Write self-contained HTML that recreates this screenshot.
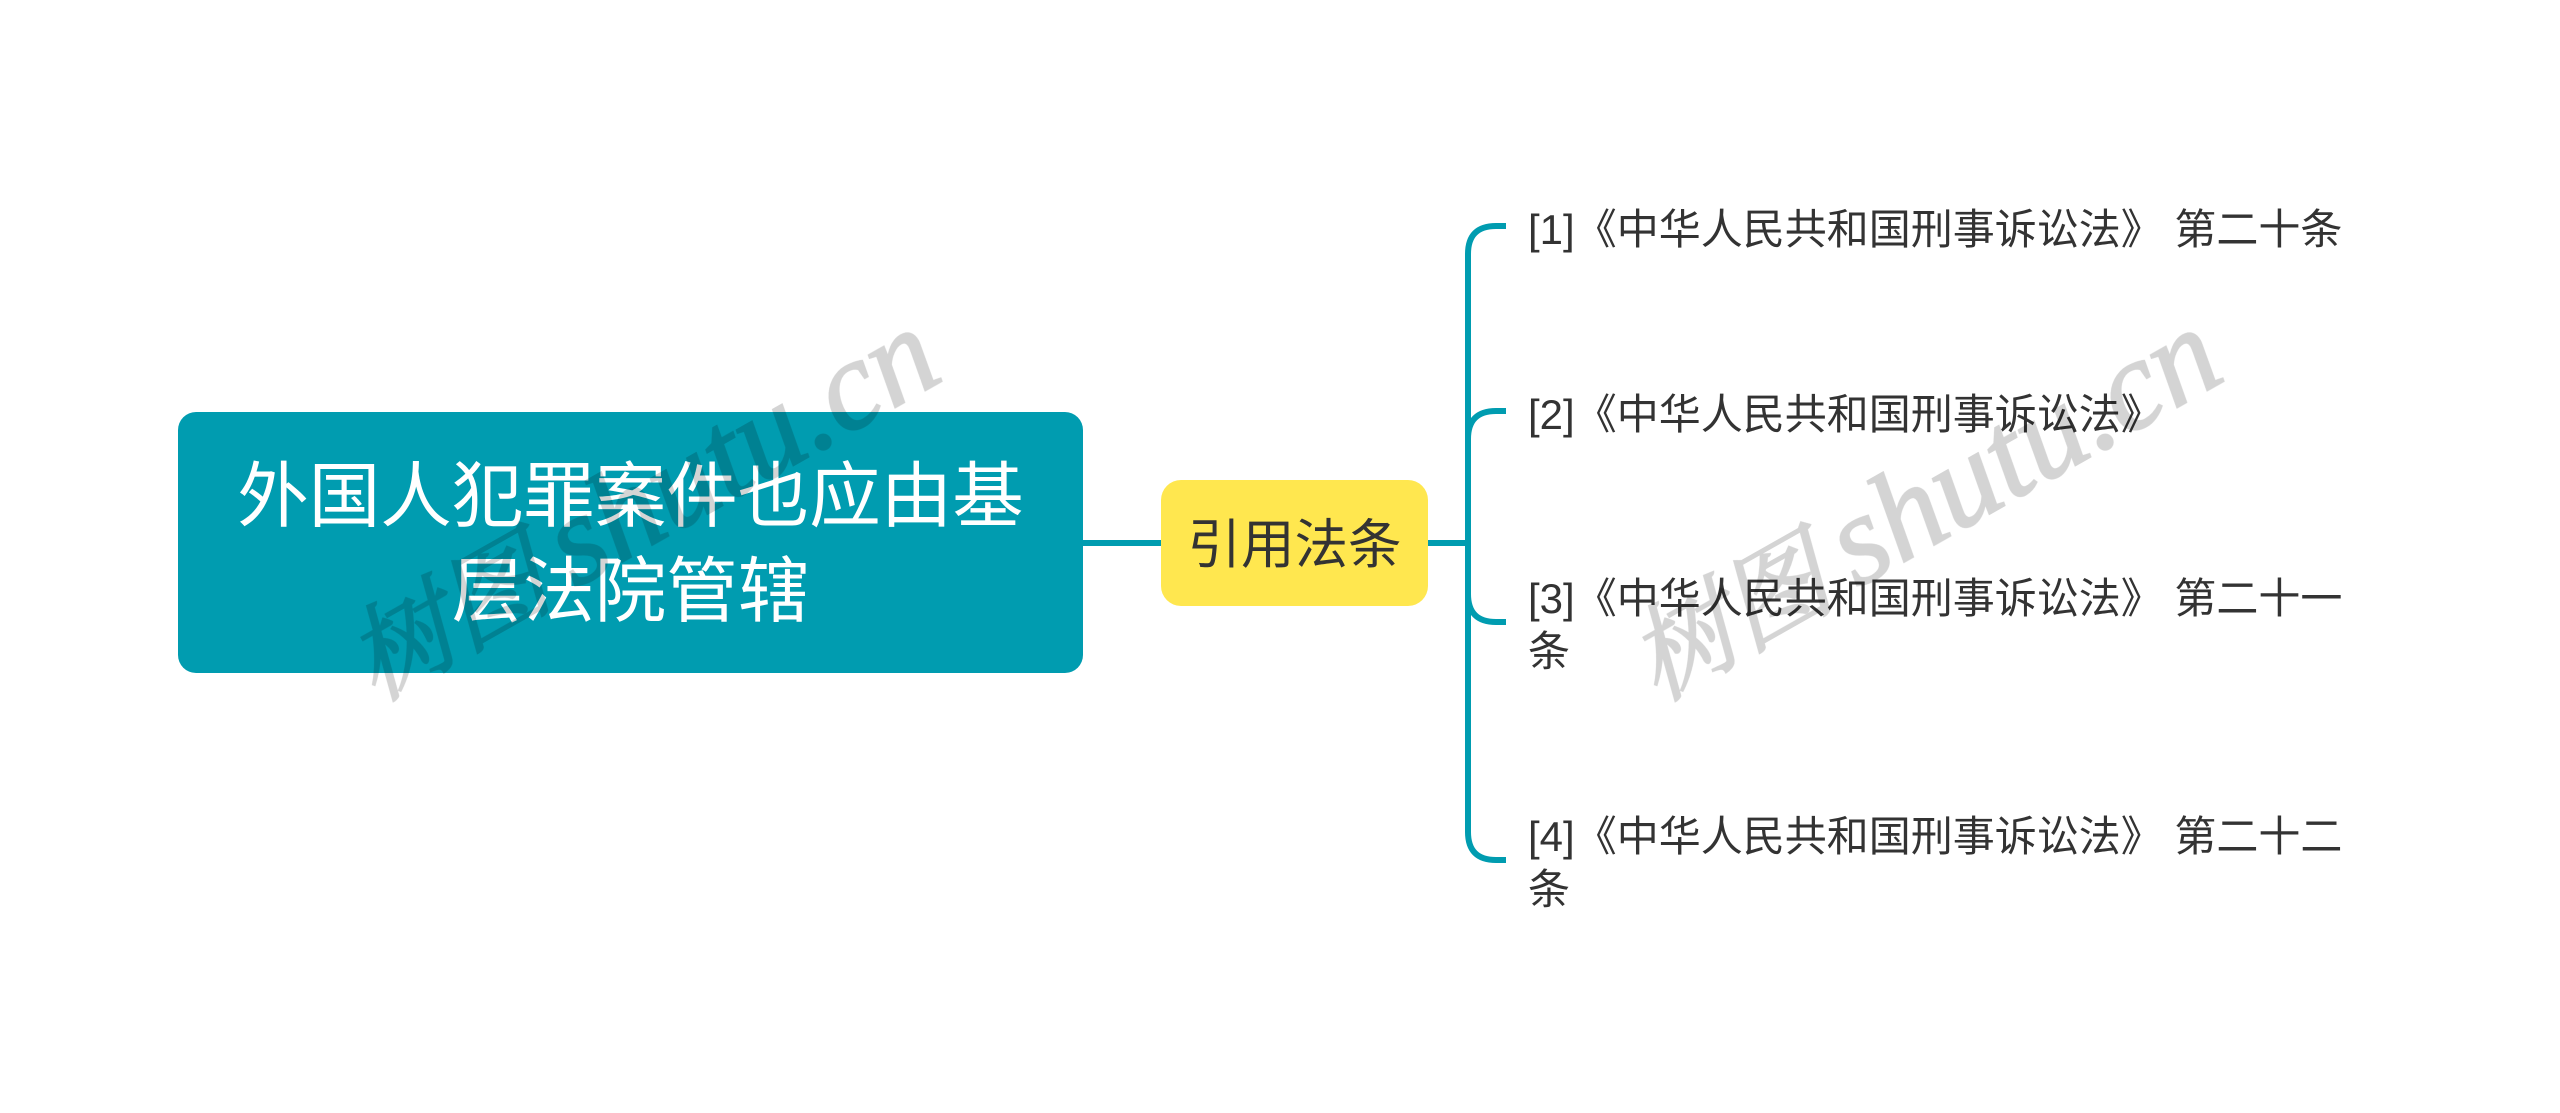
<!DOCTYPE html>
<html lang="zh">
<head>
<meta charset="utf-8">
<title>外国人犯罪案件也应由基层法院管辖</title>
<style>
html,body{margin:0;padding:0;background:#fff;}
body{position:relative;width:2560px;height:1113px;overflow:hidden;font-family:"Liberation Sans","Noto Sans CJK SC",sans-serif;}
.root{position:absolute;left:178px;top:412px;width:905px;height:261px;background:#009cb0;border-radius:18px;}
.t{position:absolute;white-space:nowrap;}
.m{color:#fff;font-size:71.5px;line-height:95px;left:178px;width:905px;text-align:center;}
.y{position:absolute;left:1161px;top:480px;width:267px;height:126px;background:#ffe74f;border-radius:20px;}
.yt{left:1161px;width:267px;top:514px;line-height:64px;text-align:center;font-size:53.5px;color:#333;}
.l{left:1528px;font-size:42px;line-height:53px;color:#333;}
svg{position:absolute;left:0;top:0;}
</style>
</head>
<body>
<svg width="2560" height="1113" viewBox="0 0 2560 1113">
<g fill="none" stroke="#009cb0" stroke-width="6">
<path d="M1083 543H1161"/>
<path d="M1428 543H1468"/>
<path d="M1506 226H1496Q1468 226 1468 254V832Q1468 860 1496 860H1506"/>
<path d="M1506 411H1496Q1468 411 1468 439"/>
<path d="M1468 594Q1468 622 1496 622H1506"/>
</g>
</svg>
<div class="root"></div>
<div class="t m" style="top:450px">外国人犯罪案件也应由基</div>
<div class="t m" style="top:545px">层法院管辖</div>
<div class="y"></div>
<div class="t yt">引用法条</div>
<div class="t l" style="top:203px">[1]《中华人民共和国刑事诉讼法》 第二十条</div>
<div class="t l" style="top:388px">[2]《中华人民共和国刑事诉讼法》</div>
<div class="t l" style="top:572px">[3]《中华人民共和国刑事诉讼法》 第二十一</div>
<div class="t l" style="top:625px">条</div>
<div class="t l" style="top:810px">[4]《中华人民共和国刑事诉讼法》 第二十二</div>
<div class="t l" style="top:863px">条</div>
<svg width="2560" height="1113" viewBox="0 0 2560 1113">
<g font-family="'Liberation Serif','Noto Serif CJK SC',serif" font-style="italic" fill="#000" stroke="#000" stroke-width="2" opacity="0.17">
<text transform="translate(375 702) rotate(-29.5)"><tspan font-size="104">树图</tspan><tspan font-size="127" dx="22">shutu.cn</tspan></text>
<text transform="translate(1657 702) rotate(-29.5)"><tspan font-size="104">树图</tspan><tspan font-size="127" dx="22">shutu.cn</tspan></text>
</g>
</svg>
</body>
</html>
